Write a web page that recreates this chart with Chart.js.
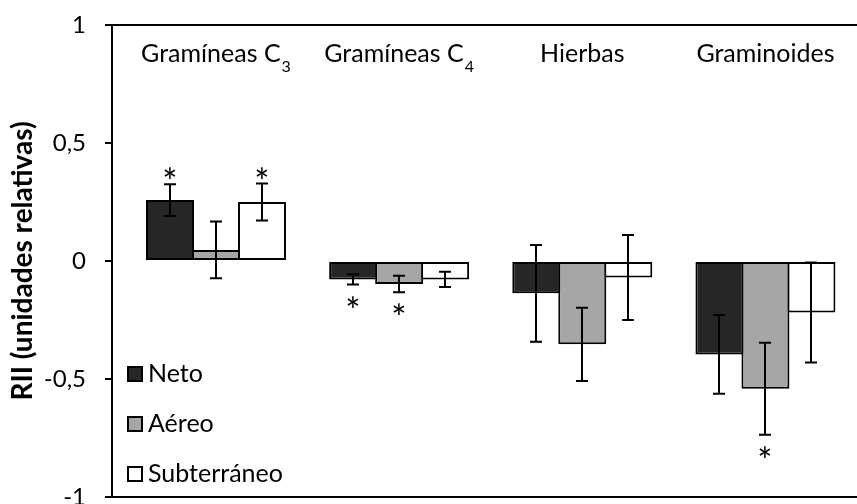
<!DOCTYPE html>
<html>
<head>
<meta charset="utf-8">
<script src="https://cdn.jsdelivr.net/npm/chart.js@4"></script>
<style>
  html, body { margin: 0; padding: 0; background: #fff; }
  #wrap { width: 857px; height: 504px; }
</style>
</head>
<body>
<div id="wrap"><canvas id="chart" width="857" height="504"></canvas></div>
<script>
// Categories (main text + subscript)
const categories = ["Gramíneas C", "Gramíneas C", "Hierbas", "Graminoides"];
const categorySubs = ["3", "4", "", ""];

// Series names
const seriesNames = ["Neto", "Aéreo", "Subterráneo"];

// RII values
const neto = [0.258, -0.078, -0.137, -0.396];
const aereo = [0.047, -0.097, -0.353, -0.541];
const subterraneo = [0.25, -0.078, -0.07, -0.218];

// Error bar half-lengths
const netoErr = [0.067, 0.022, 0.205, 0.167];
const aereoErr = [0.12, 0.035, 0.155, 0.195];
const subterraneoErr = [0.078, 0.032, 0.18, 0.212];

// Significance marks (*)
const netoSig = [true, true, false, false];
const aereoSig = [false, true, false, true];
const subterraneoSig = [true, false, false, false];

// Y axis ticks
const yTicks = [-1, -0.5, 0, 0.5, 1];

const FONT = "Lato";
const LABEL_SIZE = 25;
const TICK_SIZE = 24;
const TITLE_SIZE = 28;
const STAR_SIZE = 36;

const seriesValues = [neto, aereo, subterraneo];
const seriesErrors = [netoErr, aereoErr, subterraneoErr];
const seriesSig = [netoSig, aereoSig, subterraneoSig];
const seriesColors = ["#262626", "#a6a6a6", "#ffffff"];

// Error bars + significance asterisks
const errorBarPlugin = {
  id: "errorBars",
  afterDatasetsDraw(chart) {
    const ctx = chart.ctx;
    const yScale = chart.scales.y;
    ctx.save();
    ctx.strokeStyle = "#000";
    ctx.lineWidth = 2;
    ctx.fillStyle = "#000";
    ctx.font = STAR_SIZE + "px " + FONT;
    chart.data.datasets.forEach((ds, di) => {
      const meta = chart.getDatasetMeta(di);
      meta.data.forEach((bar, i) => {
        const v = seriesValues[di][i];
        const e = seriesErrors[di][i];
        const x = Math.round(bar.x);
        const yTop = yScale.getPixelForValue(v + e);
        const yBot = yScale.getPixelForValue(v - e);
        ctx.beginPath();
        ctx.moveTo(x, yTop);
        ctx.lineTo(x, yBot);
        ctx.moveTo(x - 6, yTop);
        ctx.lineTo(x + 6, yTop);
        ctx.moveTo(x - 6, yBot);
        ctx.lineTo(x + 6, yBot);
        ctx.stroke();

        if (seriesSig[di][i]) {
          const m = ctx.measureText("*");
          const asc = m.actualBoundingBoxAscent;
          const desc = m.actualBoundingBoxDescent;
          const yc = v >= 0 ? yTop - 11 : yBot + 17;
          ctx.textAlign = "center";
          ctx.textBaseline = "alphabetic";
          ctx.fillText("*", x, yc - (desc - asc) / 2);
        }
      });
    });
    ctx.restore();
  },
  afterDraw(chart) {
    const ctx = chart.ctx;
    const xScale = chart.scales.x;
    ctx.save();
    ctx.fillStyle = "#000";
    ctx.textBaseline = "alphabetic";
    ctx.textAlign = "left";

    // Category labels at the top of the plot
    const mainFont = LABEL_SIZE + "px " + FONT;
    const subFont = Math.round(LABEL_SIZE * 0.62) + "px " + FONT;
    const gap = 1;
    categories.forEach((label, i) => {
      ctx.font = mainFont;
      const w1 = ctx.measureText(label).width;
      let w2 = 0;
      if (categorySubs[i]) {
        ctx.font = subFont;
        w2 = ctx.measureText(categorySubs[i]).width + gap;
      }
      const cx = xScale.getPixelForValue(i);
      const x0 = cx - (w1 + w2) / 2;
      ctx.font = mainFont;
      ctx.fillText(label, x0, 62);
      if (categorySubs[i]) {
        ctx.font = subFont;
        ctx.fillText(categorySubs[i], x0 + w1 + gap, 72);
      }
    });

    // Legend inside the plot area
    ctx.font = mainFont;
    ctx.textBaseline = "middle";
    const rows = [374, 424, 474];
    chart.data.datasets.forEach((ds, di) => {
      const y = rows[di];
      ctx.fillStyle = ds.backgroundColor;
      ctx.fillRect(127, y - 8, 16, 16);
      ctx.strokeStyle = "#000";
      ctx.lineWidth = 2;
      ctx.strokeRect(128, y - 7, 14, 14);
      ctx.fillStyle = "#000";
      ctx.fillText(ds.label, 148, y);
    });
    ctx.restore();
  }
};

new Chart(document.getElementById("chart"), {
  type: "bar",
  data: {
    datasets: seriesNames.map((name, di) => ({
      label: name,
      data: seriesValues[di].map((v, i) => ({ x: i, y: v })),
      backgroundColor: seriesColors[di],
      borderColor: "#000",
      borderWidth: 2,
      borderSkipped: false,
      categoryPercentage: 0.7534,
      barPercentage: 1.0435
    }))
  },
  options: {
    responsive: false,
    animation: false,
    devicePixelRatio: 1,
    layout: { padding: { top: 25, bottom: 7, left: 0, right: 0 } },
    plugins: {
      legend: { display: false },
      tooltip: { enabled: false }
    },
    scales: {
      x: {
        type: "linear",
        display: false,
        offset: false,
        min: -0.5678,
        max: 3.5,
        afterBuildTicks: (scale) => {
          scale.ticks = categories.map((c, i) => ({ value: i }));
        }
      },
      y: {
        min: -1,
        max: 1,
        afterBuildTicks: (scale) => {
          scale.ticks = yTicks.map((v) => ({ value: v }));
        },
        ticks: {
          color: "#000",
          font: { family: FONT, size: TICK_SIZE },
          padding: 19,
          callback: (v) => String(v).replace(".", ",")
        },
        grid: {
          drawOnChartArea: true,
          color: (ctx) => (ctx.tick && Math.abs(ctx.tick.value) === 1 ? "#000" : "rgba(0,0,0,0)"),
          tickColor: "#000",
          tickLength: 7,
          lineWidth: 2
        },
        border: { display: true, color: "#000", width: 2 },
        title: {
          display: true,
          text: "RII (unidades relativas)",
          color: "#000",
          font: { family: FONT, size: TITLE_SIZE, weight: "bold" },
          padding: { top: 6, bottom: 0 }
        },
        afterFit: (scale) => {
          scale.width = 112;
          scale.paddingTop = 0;
          scale.paddingBottom = 0;
        }
      }
    }
  },
  plugins: [errorBarPlugin]
});
</script>
</body>
</html>
